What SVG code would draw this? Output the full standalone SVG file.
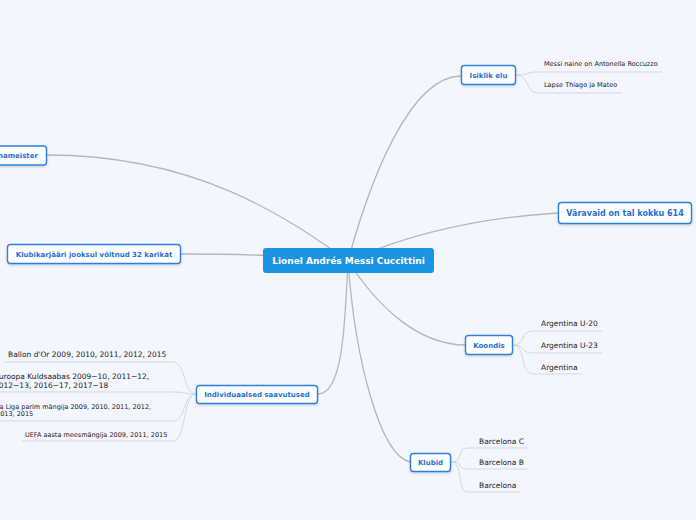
<svg xmlns="http://www.w3.org/2000/svg" width="696" height="520" viewBox="0 0 696 520">
<style>
.bg{fill:#f3f6fd}
.main{fill:none;stroke:#b4b6bf;stroke-width:1.3}
.sub{fill:none;stroke:#d3d7e0;stroke-width:1}
.node{fill:#ffffff;stroke:#2f80de;stroke-width:1.4}
.root{fill:#1b94e4}
.nt{font-family:"DejaVu Sans",Verdana,sans-serif;font-weight:bold;font-size:7px;fill:#1f6fd3;text-anchor:middle}
.rt{font-family:"DejaVu Sans",Verdana,sans-serif;font-weight:bold;font-size:9px;fill:#ffffff;text-anchor:middle}
.lt{font-family:"DejaVu Sans",Verdana,sans-serif;font-size:7.5px;fill:#222222}
.st{font-family:"DejaVu Sans",Verdana,sans-serif;font-size:6.5px;fill:#222222}
</style>
<defs>
<filter id="sh" x="-20%" y="-30%" width="140%" height="170%">
<feDropShadow dx="0" dy="1" stdDeviation="0.8" flood-color="#000000" flood-opacity="0.2"/>
</filter>
</defs>
<rect class="bg" x="0" y="0" width="696" height="520"/>
<g id="connectors">
<path class="main" d="M348,261 C370,180 410,76 461,76"/>
<path class="main" d="M348,261 Q440,220 558,213"/>
<path class="main" d="M348,261 C290,220 200,155 47,155"/>
<path class="main" d="M348,260 C300,256 230,254 181,254"/>
<path class="main" d="M348,261 C345,330 342,394 318,394"/>
<path class="main" d="M348,261 C355,360 380,455 410,462"/>
<path class="main" d="M348,261 C380,310 420,345 466,345"/>
<path class="sub" d="M516,75 C530,75 525,72 538,72 H662"/>
<path class="sub" d="M516,75 C530,75 525,93 538,93 H622"/>
<path class="sub" d="M513,345 C526,345 520,331 533,331 H602"/>
<path class="sub" d="M513,345 C526,345 520,353 533,353 H602"/>
<path class="sub" d="M513,345 C526,345 520,374 533,374 H582"/>
<path class="sub" d="M451,462 C464,462 456,448 468,448 H528"/>
<path class="sub" d="M451,462 C464,462 456,469 468,469 H528"/>
<path class="sub" d="M451,462 C464,462 456,492 468,492 H520"/>
<path class="sub" d="M196,394 C183,394 186,362 173,362 H4"/>
<path class="sub" d="M196,394 C183,394 186,392 173,392 H0"/>
<path class="sub" d="M196,394 C183,394 186,421 173,421 H0"/>
<path class="sub" d="M196,394 C183,394 186,441 173,441 H22"/>
</g>
<g id="root">
<rect class="root" x="263" y="248" width="171" height="25" rx="3"/>
<text class="rt" x="348.5" y="264.2">Lionel Andrés Messi Cuccittini</text>
</g>
<g id="isiklik">
<rect class="node" filter="url(#sh)" x="461.5" y="65.5" width="54" height="19" rx="3"/>
<text class="nt" x="488.5" y="77.6">Isiklik elu</text>
</g>
<g id="isiklik-1"><text class="st" x="544" y="66.3">Messi naine on Antonella Roccuzzo</text></g>
<g id="isiklik-2"><text class="st" x="544" y="87.3">Lapse Thiago ja Mateo</text></g>
<g id="varavaid">
<rect class="node" filter="url(#sh)" x="558.5" y="202.5" width="133" height="21" rx="3"/>
<text class="nt" style="font-size:8px" x="625" y="215.8">Väravaid on tal kokku 614</text>
</g>
<g id="nameister">
<rect class="node" filter="url(#sh)" x="-20" y="146" width="66.5" height="19" rx="3"/>
<text class="nt" style="text-anchor:start" x="-2" y="158">nameister</text>
</g>
<g id="klubikarjaar">
<rect class="node" filter="url(#sh)" x="7.5" y="244.5" width="173" height="19" rx="3"/>
<text class="nt" x="94" y="256.8">Klubikarjääri jooksul võitnud 32 karikat</text>
</g>
<g id="koondis">
<rect class="node" filter="url(#sh)" x="465.5" y="335.5" width="47" height="19" rx="3"/>
<text class="nt" x="489" y="347.6">Koondis</text>
</g>
<g id="koondis-1"><text class="lt" x="541" y="325.7">Argentina U-20</text></g>
<g id="koondis-2"><text class="lt" x="541" y="347.7">Argentina U-23</text></g>
<g id="koondis-3"><text class="lt" x="541" y="369.7">Argentina</text></g>
<g id="klubid">
<rect class="node" filter="url(#sh)" x="410.5" y="453.5" width="40" height="18" rx="3"/>
<text class="nt" x="430.5" y="465">Klubid</text>
</g>
<g id="klubid-1"><text class="lt" x="479" y="443.7">Barcelona C</text></g>
<g id="klubid-2"><text class="lt" x="479" y="464.7">Barcelona B</text></g>
<g id="klubid-3"><text class="lt" x="479" y="487.7">Barcelona</text></g>
<g id="individuaalsed">
<rect class="node" filter="url(#sh)" x="196.5" y="385.5" width="121" height="18" rx="3"/>
<text class="nt" x="257" y="397">Individuaalsed saavutused</text>
</g>
<g id="ind-1"><text class="lt" x="8" y="356.7">Ballon d'Or 2009, 2010, 2011, 2012, 2015</text></g>
<g id="ind-2"><text class="lt" x="-6" y="378.5">Euroopa Kuldsaabas 2009−10, 2011−12,<tspan x="-6" y="387.5">2012−13, 2016−17, 2017−18</tspan></text></g>
<g id="ind-3"><text class="st" x="-4" y="409.3">La Liga parim mängija 2009, 2010, 2011, 2012,<tspan x="-4" y="416.3">2013, 2015</tspan></text></g>
<g id="ind-4"><text class="st" x="25" y="437.3">UEFA aasta meesmängija 2009, 2011, 2015</text></g>
</svg>
